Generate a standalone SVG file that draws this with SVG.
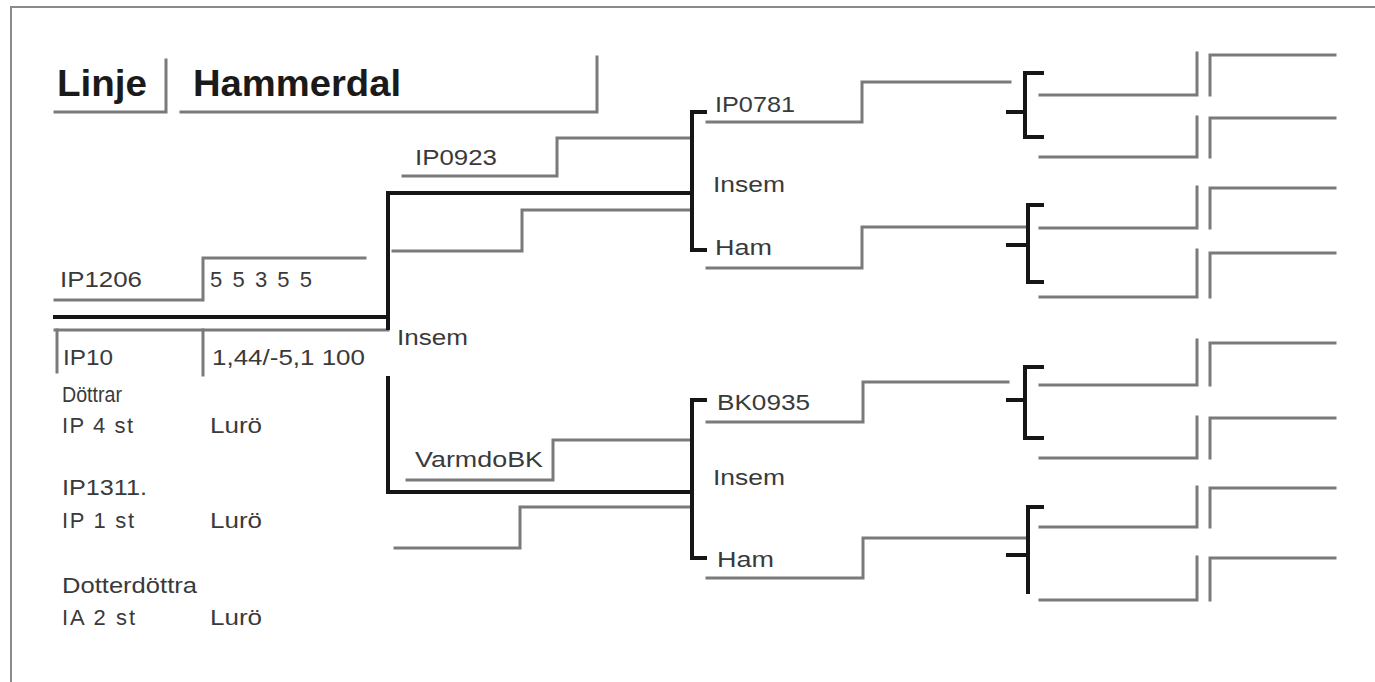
<svg xmlns="http://www.w3.org/2000/svg" width="1375" height="682" viewBox="0 0 1375 682">
<defs>
<style>
.bg{fill:#ffffff}
.frame{fill:none;stroke:#8a8a8a;stroke-width:2}
.g{fill:none;stroke:#7a7a7a;stroke-width:3;stroke-linejoin:miter;stroke-linecap:square}
.k{fill:none;stroke:#161616;stroke-width:4;stroke-linejoin:miter;stroke-linecap:square}
.t{font-family:"Liberation Sans",Arial,sans-serif;font-size:22px;fill:#3a3a3a}
.title{font-family:"Liberation Sans",Arial,sans-serif;font-size:36px;font-weight:bold;fill:#1a1a1a}
</style>
</defs>
<rect class="bg" x="0" y="0" width="1375" height="682"/>
<path class="frame" d="M11,682 V7 H1375"/>

<g id="title">
<text class="title" x="57" y="96" textLength="90" lengthAdjust="spacingAndGlyphs">Linje</text>
<text class="title" x="193" y="96" textLength="208" lengthAdjust="spacingAndGlyphs">Hammerdal</text>
<polyline class="g" points="55,112 166,112 166,60"/>
<polyline class="g" points="181,112 597,112 597,57"/>
</g>

<g id="node-ip1206">
<text class="t" x="60" y="287" textLength="82" lengthAdjust="spacingAndGlyphs">IP1206</text>
<text class="t" x="210" y="287" textLength="102" lengthAdjust="spacing">5 5 3 5 5</text>
</g>
<g id="node-ip10">
<text class="t" x="63" y="365" textLength="50" lengthAdjust="spacingAndGlyphs">IP10</text>
<text class="t" x="212" y="365" textLength="153" lengthAdjust="spacingAndGlyphs">1,44/-5,1 100</text>
</g>
<g id="info">
<text class="t" x="62" y="402" textLength="60" lengthAdjust="spacingAndGlyphs">Döttrar</text>
<text class="t" x="62" y="433" textLength="71" lengthAdjust="spacing">IP 4 st</text>
<text class="t" x="210" y="433" textLength="52" lengthAdjust="spacingAndGlyphs">Lurö</text>
<text class="t" x="62" y="495" textLength="85" lengthAdjust="spacingAndGlyphs">IP1311.</text>
<text class="t" x="62" y="528" textLength="72" lengthAdjust="spacing">IP 1 st</text>
<text class="t" x="210" y="528" textLength="52" lengthAdjust="spacingAndGlyphs">Lurö</text>
<text class="t" x="62" y="593" textLength="135" lengthAdjust="spacingAndGlyphs">Dotterdöttra</text>
<text class="t" x="62" y="625" textLength="73" lengthAdjust="spacing">IA 2 st</text>
<text class="t" x="210" y="625" textLength="52" lengthAdjust="spacingAndGlyphs">Lurö</text>
</g>
<g id="node-insem-1">
<text class="t" x="397" y="345" textLength="71" lengthAdjust="spacingAndGlyphs">Insem</text>
</g>
<g id="node-ip0923">
<text class="t" x="415" y="165" textLength="82" lengthAdjust="spacingAndGlyphs">IP0923</text>
</g>
<g id="node-varmdobk">
<text class="t" x="415" y="467" textLength="128" lengthAdjust="spacingAndGlyphs">VarmdoBK</text>
</g>
<g id="node-ip0781">
<text class="t" x="715" y="112" textLength="80" lengthAdjust="spacingAndGlyphs">IP0781</text>
</g>
<g id="node-insem-2">
<text class="t" x="713" y="192" textLength="72" lengthAdjust="spacingAndGlyphs">Insem</text>
</g>
<g id="node-ham-1">
<text class="t" x="715" y="255" textLength="57" lengthAdjust="spacingAndGlyphs">Ham</text>
</g>
<g id="node-bk0935">
<text class="t" x="717" y="410" textLength="93" lengthAdjust="spacingAndGlyphs">BK0935</text>
</g>
<g id="node-insem-3">
<text class="t" x="713" y="485" textLength="72" lengthAdjust="spacingAndGlyphs">Insem</text>
</g>
<g id="node-ham-2">
<text class="t" x="717" y="567" textLength="57" lengthAdjust="spacingAndGlyphs">Ham</text>
</g>

<g id="connectors">
<!-- left -->
<polyline class="g" points="55,300 203,300 203,258 365,258"/>
<polyline class="g" points="55,330 388,330"/>
<polyline class="g" points="57,330 57,372"/>
<polyline class="g" points="203,330 203,375"/>
<polyline class="k" points="55,317 388,317"/>
<polyline class="k" points="388,328 388,193 692,193"/>
<polyline class="k" points="388,378 388,492 692,492"/>
<!-- generation 2 steps -->
<polyline class="g" points="403,176 557,176 557,138 692,138"/>
<polyline class="g" points="393,251 522,251 522,210 692,210"/>
<polyline class="g" points="407,480 553,480 553,440 692,440"/>
<polyline class="g" points="395,548 520,548 520,507 692,507"/>
<!-- brackets middle -->
<polyline class="k" points="705,112 692,112 692,250 705,250"/>
<polyline class="k" points="705,400 692,400 692,558 705,558"/>
<!-- generation 3 steps -->
<polyline class="g" points="707,122 862,122 862,82 1010,82"/>
<polyline class="g" points="707,268 862,268 862,227 1025,227"/>
<polyline class="g" points="707,422 863,422 863,382 1008,382"/>
<polyline class="g" points="707,578 863,578 863,538 1028,538"/>
<!-- right brackets -->
<polyline class="k" points="1042,73 1025,73 1025,137 1042,137"/>
<line class="k" x1="1008" y1="112" x2="1025" y2="112"/>
<polyline class="k" points="1042,205 1028,205 1028,282 1042,282"/>
<line class="k" x1="1008" y1="245" x2="1028" y2="245"/>
<polyline class="k" points="1042,367 1025,367 1025,438 1042,438"/>
<line class="k" x1="1008" y1="400" x2="1025" y2="400"/>
<polyline class="k" points="1042,507 1028,507 1028,592"/>
<line class="k" x1="1008" y1="555" x2="1028" y2="555"/>
<!-- right column -->
<polyline class="g" points="1040,95 1197,95 1197,53"/>
<polyline class="g" points="1210,95 1210,55 1335,55"/>
<polyline class="g" points="1040,157 1197,157 1197,117"/>
<polyline class="g" points="1210,157 1210,118 1335,118"/>
<polyline class="g" points="1040,228 1197,228 1197,187"/>
<polyline class="g" points="1210,228 1210,188 1335,188"/>
<polyline class="g" points="1040,297 1197,297 1197,250"/>
<polyline class="g" points="1210,297 1210,253 1335,253"/>
<polyline class="g" points="1040,385 1197,385 1197,340"/>
<polyline class="g" points="1210,385 1210,343 1335,343"/>
<polyline class="g" points="1040,458 1197,458 1197,417"/>
<polyline class="g" points="1210,458 1210,418 1335,418"/>
<polyline class="g" points="1040,527 1197,527 1197,487"/>
<polyline class="g" points="1210,527 1210,488 1335,488"/>
<polyline class="g" points="1040,600 1197,600 1197,557"/>
<polyline class="g" points="1210,600 1210,558 1335,558"/>
</g>
</svg>
